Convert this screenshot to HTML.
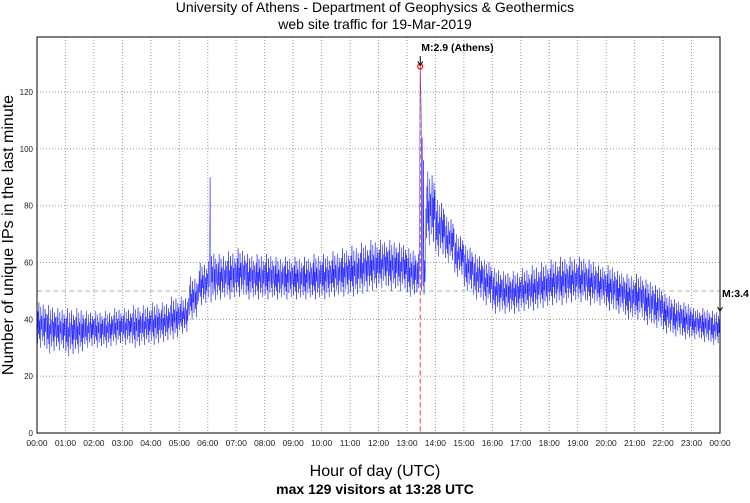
<!DOCTYPE html>
<html><head><meta charset="utf-8"><style>
body{margin:0;background:#fff;width:750px;height:498px;overflow:hidden;font-family:"Liberation Sans",sans-serif}
</style></head><body>
<svg id="chart" width="750" height="498" xmlns="http://www.w3.org/2000/svg" font-family="Liberation Sans, sans-serif">
<text x="375" y="12" text-anchor="middle" font-size="14">University of Athens - Department of Geophysics &amp; Geothermics</text>
<text x="375" y="29" text-anchor="middle" font-size="14">web site traffic for 19-Mar-2019</text>
<text transform="translate(13,235) rotate(-90)" text-anchor="middle" font-size="16">Number of unique IPs in the last minute</text>
<text x="375" y="476" text-anchor="middle" font-size="16">Hour of day (UTC)</text>
<text x="375" y="494" text-anchor="middle" font-size="14" font-weight="bold">max 129 visitors at 13:28 UTC</text>
<g id="grid"></g><g id="series"></g><g id="marks"></g>
<rect x="37" y="37" width="683" height="396" fill="none" stroke="#000" stroke-width="1"/>
</svg>
<script>
const yTicks=[0,20,40,60,80,100,120];
const xTickLabels=["00:00","01:00","02:00","03:00","04:00","05:00","06:00","07:00","08:00","09:00","10:00","11:00","12:00","13:00","14:00","15:00","16:00","17:00","18:00","19:00","20:00","21:00","22:00","23:00","00:00"];
const segLow=[30,28,29,27,28,30,30,30,31,31,30,31,31,32,33,35,40,45,46,47,47,48,47,47,47,47,47,47,47,47,47,48,48,48,49,50,51,50,50,48,48,66,62,60,55,50,47,45,42,42,42,43,43,44,45,45,46,46,45,45,43,42,40,40,38,37,35,34,33,33,32,31];
const segHigh=[46,45,44,44,44,43,43,43,44,44,45,45,46,46,48,48,55,60,64,63,64,65,63,63,63,62,62,62,62,63,63,64,65,66,67,68,68,68,67,65,63,92,82,76,70,66,63,61,58,57,57,58,59,60,61,62,62,62,61,59,59,57,56,56,54,52,49,47,46,44,44,43];
const spikeMinutes=[365,806,807,808,809,810,812,815];
const spikeValues=[90,60,95,129,122,112,104,96];
const peakMinute=808, peakValue=129, refLevel=50;

const X0=37,X1=720,Y0=433,YTOP=37,YMAX=139.4;
const xs=m=>X0+(X1-X0)*m/1440;
const ys=v=>Y0-(Y0-YTOP)*v/YMAX;
const NS="http://www.w3.org/2000/svg";
function mk(tag,attrs,parent){const e=document.createElementNS(NS,tag);for(const k in attrs)e.setAttribute(k,attrs[k]);parent.appendChild(e);return e;}
const grid=document.getElementById('grid'),series=document.getElementById('series'),marks=document.getElementById('marks');
yTicks.forEach(v=>{
 const l=mk('line',{x1:X0,x2:X1,y1:ys(v),y2:ys(v),stroke:'#999','stroke-dasharray':'1,2','stroke-width':1},grid);
 
 
 const t=mk('text',{x:X0-4,y:ys(v)+3,'text-anchor':'end','font-size':8,fill:'#222'},grid);
 t.textContent=v;
 
 
});
xTickLabels.forEach((s,i)=>{
 const x=xs(i*60);
 const l=mk('line',{x1:x,x2:x,y1:YTOP,y2:Y0,stroke:'#999','stroke-dasharray':'1,2','stroke-width':1},grid);
 
 
 const t=mk('text',{x:x,y:446,'text-anchor':'middle','font-size':8.5,fill:'#222'},grid);
 t.textContent=s;
 
 
});
const ref=mk('line',{x1:X0,x2:X1,y1:ys(refLevel),y2:ys(refLevel),stroke:'#aab8a0','stroke-dasharray':'5,3','stroke-width':1},grid);


const pat=[0.5,0.1,0.8,0.3,1,0.2,0.6,0,0.9,0.4,0.7,0.15,0.55,0.95,0.25,0.65,0.05,0.85,0.35,0.75];
let pts=[];
for(let m=0;m<=1440;m++){
 const s=Math.min(71,Math.floor(m/20));
 let v=segLow[s]+(segHigh[s]-segLow[s])*pat[m%pat.length];
 const k=spikeMinutes.indexOf(m); if(k>=0)v=spikeValues[k];
 pts.push(xs(m).toFixed(2)+','+ys(v).toFixed(2));
}
const pl=mk('polyline',{points:pts.join(' '),fill:'none',stroke:'#0000ff','stroke-width':0.5,'stroke-opacity':0.85},series);


const vl=mk('line',{x1:xs(peakMinute),x2:xs(peakMinute),y1:ys(peakValue),y2:Y0,stroke:'#f33','stroke-dasharray':'5,3','stroke-width':1},marks);


const c=mk('circle',{cx:xs(peakMinute),cy:ys(peakValue),r:2.5,fill:'none',stroke:'#f00','stroke-width':1.2},marks);


const a1=mk('path',{d:`M${xs(peakMinute)},56 V${ys(peakValue)-1} M${xs(peakMinute)-2.5},${ys(peakValue)-5} L${xs(peakMinute)},${ys(peakValue)-1} L${xs(peakMinute)+2.5},${ys(peakValue)-5}`,stroke:'#000',fill:'none','stroke-width':1},marks);


const t1=mk('text',{x:xs(peakMinute)+1,y:51,'font-size':10.5,'font-weight':'bold'},marks);
t1.textContent='M:2.9 (Athens)';


const a2=mk('path',{d:`M${X1},300 V311 M${X1-2.5},307 L${X1},311 L${X1+2.5},307`,stroke:'#000',fill:'none','stroke-width':1},marks);


const t2=mk('text',{x:722,y:297,'font-size':10.5,'font-weight':'bold'},marks);
t2.textContent='M:3.4';


</script>
</body></html>
